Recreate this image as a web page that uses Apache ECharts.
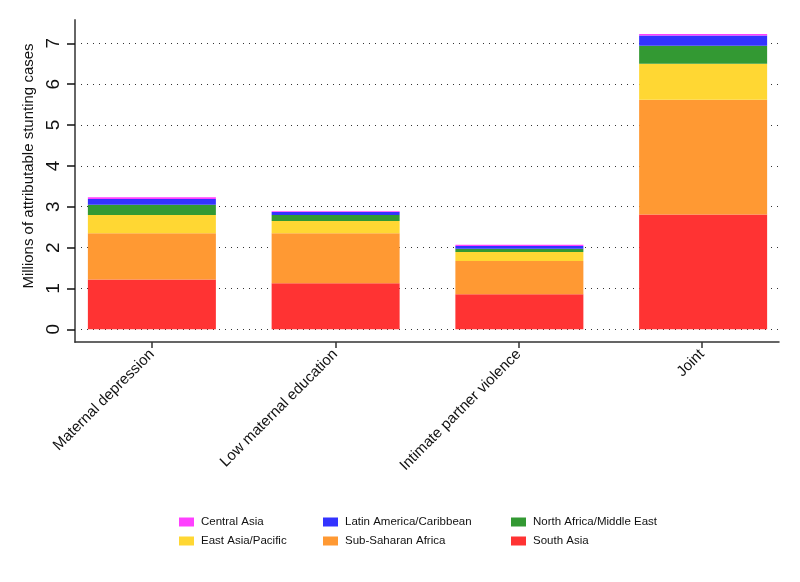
<!DOCTYPE html>
<html>
<head>
<meta charset="utf-8">
<script src="https://cdn.jsdelivr.net/npm/echarts@6/dist/echarts.min.js"></script>
<style>html,body{margin:0;padding:0;background:#fff;}#c{width:800px;height:582px;}</style>
</head>
<body>
<div id="c"></div>
<script>
const categories = ['Maternal depression', 'Low maternal education', 'Intimate partner violence', 'Joint'];
const yTicks = [0, 1, 2, 3, 4, 5, 6, 7];
const southAsia = [1.22, 1.13, 0.86, 2.81];
const subSaharanAfrica = [1.13, 1.22, 0.81, 2.81];
const eastAsiaPacific = [0.45, 0.30, 0.22, 0.88];
const northAfricaMiddleEast = [0.25, 0.15, 0.08, 0.44];
const latinAmericaCaribbean = [0.14, 0.07, 0.07, 0.25];
const centralAsia = [0.04, 0.02, 0.03, 0.04];

const FONT = '"Liberation Sans", Arial, sans-serif';
const seriesDefs = [
  { name: 'South Asia', data: southAsia, color: '#ff3333' },
  { name: 'Sub-Saharan Africa', data: subSaharanAfrica, color: '#ff9933' },
  { name: 'East Asia/Pacific', data: eastAsiaPacific, color: '#ffd733' },
  { name: 'North Africa/Middle East', data: northAfricaMiddleEast, color: '#339933' },
  { name: 'Latin America/Caribbean', data: latinAmericaCaribbean, color: '#3333ff' },
  { name: 'Central Asia', data: centralAsia, color: '#ff40ff' }
];
const positions = categories.map((c, i) => i + 1);
const Y_MIN = -0.31, Y_MAX = 7.57;

const legendBase = {
  orient: 'vertical', top: 511, itemWidth: 15, itemHeight: 9, itemGap: 7,
  icon: 'rect', selectedMode: false,
  textStyle: { fontFamily: FONT, fontSize: 11.5, color: '#111', padding: [0, 0, 0, 2] }
};

const chart = echarts.init(document.getElementById('c'), null, { renderer: 'canvas' });
chart.setOption({
  animation: false,
  backgroundColor: '#fff',
  textStyle: { fontFamily: FONT },
  grid: [
    { left: 75, right: 21, top: 20, bottom: 240, containLabel: false },
    { left: 60, right: 5, top: 20, bottom: 240, containLabel: false }
  ],
  legend: [
    Object.assign({}, legendBase, { left: 174, data: ['Central Asia', 'East Asia/Pacific'] }),
    Object.assign({}, legendBase, { left: 318, data: ['Latin America/Caribbean', 'Sub-Saharan Africa'] }),
    Object.assign({}, legendBase, { left: 506, data: ['North Africa/Middle East', 'South Asia'] })
  ],
  xAxis: [
    {
      gridIndex: 0, type: 'value', min: 0.58, max: 4.42,
      splitLine: { show: false },
      axisLine: { show: true, onZero: false, lineStyle: { color: '#333', width: 1.5 } },
      axisTick: { show: true, length: 6, customValues: positions, lineStyle: { color: '#333', width: 1.5 } },
      axisLabel: {
        customValues: positions, rotate: 45, margin: 10, fontSize: 15, color: '#111', fontFamily: FONT,
        formatter: v => categories[Math.round(v) - 1] || ''
      }
    },
    {
      gridIndex: 1, type: 'category', data: categories, boundaryGap: true, show: false
    }
  ],
  yAxis: [
    {
      gridIndex: 0, type: 'value', min: Y_MIN, max: Y_MAX,
      name: 'Millions of attributable stunting cases', nameLocation: 'middle', nameGap: 31,
      nameTextStyle: { fontSize: 15, color: '#111', fontFamily: FONT, padding: [0, 0, 0, 30] },
      axisLine: { show: true, onZero: false, lineStyle: { color: '#666', width: 2 } },
      axisTick: { show: true, length: 8, customValues: yTicks, lineStyle: { color: '#111', width: 1.5 } },
      axisLabel: { customValues: yTicks, rotate: 90, fontSize: 19, color: '#111', margin: 12, fontFamily: FONT },
      splitLine: { show: true, lineStyle: { color: '#333', width: 1, type: [1, 5] } }
    },
    {
      gridIndex: 1, type: 'value', min: Y_MIN, max: Y_MAX, show: false, splitLine: { show: false }
    }
  ],
  series: seriesDefs.map(s => ({
    name: s.name, type: 'bar', stack: 'total', barWidth: 128,
    xAxisIndex: 1, yAxisIndex: 1,
    itemStyle: { color: s.color },
    data: s.data
  }))
});
</script>
</body>
</html>
